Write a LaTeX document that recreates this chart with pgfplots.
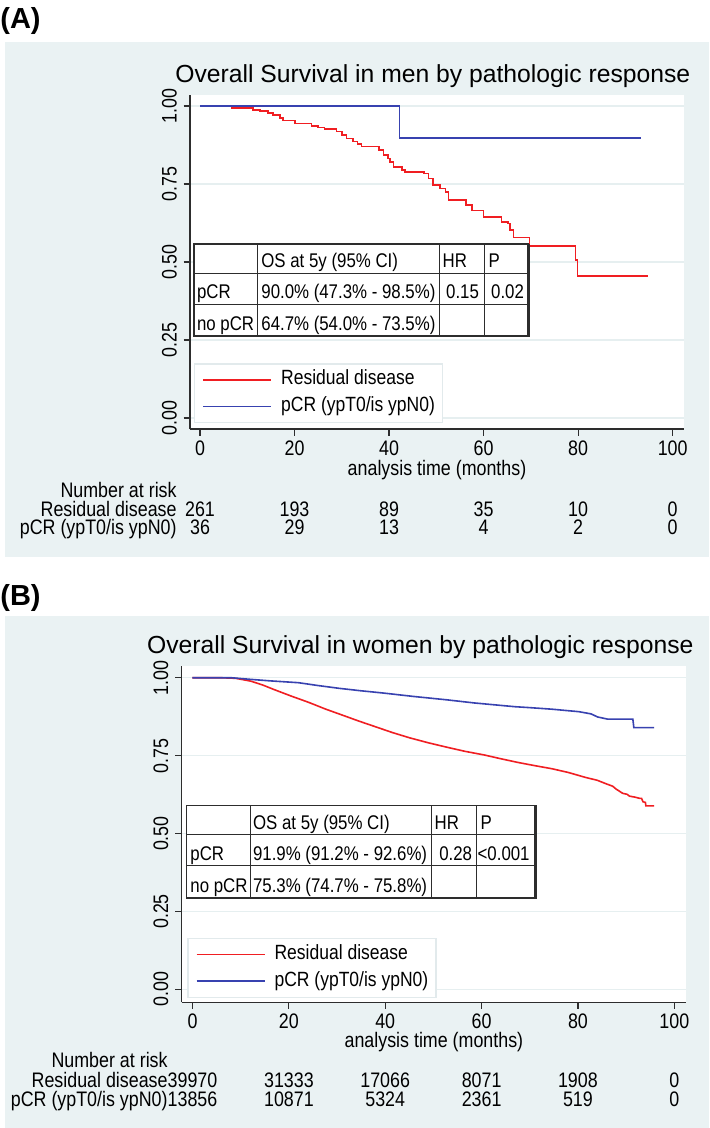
\documentclass[border=0pt]{standalone}
\usepackage{pgfplots}
\pgfplotsset{compat=1.18}
\usepackage{fontspec}
\setmainfont{Liberation Sans}
\newfontfamily\nf{Liberation Sans}[FakeStretch=0.85]
\definecolor{bgc}{RGB}{234,242,243}
\definecolor{gridc}{RGB}{230,239,240}
\definecolor{redc}{RGB}{240,30,34}
\definecolor{bluec}{RGB}{56,66,176}
\definecolor{axc}{RGB}{45,45,45}
\definecolor{legc}{RGB}{226,234,236}
\newcommand{\tk}{\fontsize{10.5pt}{12pt}\nf}
\newcommand{\tb}{\fontsize{9.9pt}{12pt}\nf}
\newcommand{\lgf}{\fontsize{10.3pt}{12pt}\nf}
\newcommand{\ttl}{\fontsize{12.35pt}{14pt}\selectfont}
\newcommand{\pl}{\fontsize{14.5pt}{16pt}\selectfont\bfseries}

\pgfplotsset{
  km/.style={
    scale only axis,
    axis x line=bottom, axis y line=left,
    axis line style={-, draw=axc, line width=0.6pt},
    axis background/.style={fill=white},
    xtick={0,20,40,60,80,100},
    xticklabels={0,20,40,60,80,100},
    ytick={0,0.25,0.5,0.75,1},
    yticklabels={0.00,0.25,0.50,0.75,1.00},
    tick align=outside,
    major tick length=3.25pt,
    tick style={draw=axc, line width=0.6pt},
    ymajorgrids,
    grid style={draw=gridc, line width=0.6pt},
    xticklabel style={font=\tk, anchor=base, inner sep=0pt},
    yticklabel style={font=\tk, rotate=90, anchor=base, inner sep=0pt},
    xticklabel shift=10.1pt,
    yticklabel shift=3.5pt,
    legend cell align=left,
    legend image code/.code={\draw[##1] (0pt,0pt) -- (34pt,0pt);},
    legend style={anchor=north west, draw=legc, line width=0.6pt, fill=white, font=\lgf,
      inner xsep=3.85pt, inner ysep=3pt, row sep=3.3pt,
      nodes={inner sep=0pt, text height=7.5pt, text depth=2.5pt},
      /tikz/every odd column/.append style={column sep=4.65pt}},
  },
  redl/.style={const plot, draw=redc, line width=0.8pt, no marks},
  bluel/.style={const plot, draw=bluec, line width=0.8pt, no marks},
  reds/.style={sharp plot, draw=redc, line width=0.8pt, no marks},
  blues/.style={sharp plot, draw=bluec, line width=0.8pt, no marks},
}

\begin{document}
\begin{tikzpicture}
\begin{scope}[x=0.5pt,y=-0.5pt]
  \path (0,0) rectangle (709,1128);
  \fill[bgc] (5,41.7) rectangle (709,557.3);
  \fill[bgc] (5,616) rectangle (709,1128);
  \node[anchor=base west, inner sep=0pt, font=\pl] at (0,29) {(A)};
  \node[anchor=base west, inner sep=0pt, font=\pl] at (0,605) {(B)};
  \node[anchor=base west, inner sep=0pt, font=\ttl] at (175,82.7) {Overall Survival in men by pathologic response};
  \node[anchor=base west, inner sep=0pt, font=\ttl] at (146.7,653.3) {Overall Survival in women by pathologic response};
\end{scope}

% ---------------- Panel A ----------------
\begin{axis}[km, at={(95pt,-214.5pt)}, anchor=south west,
  width=247pt, height=167pt,
  xmin=-2.115, xmax=102.39, ymin=-0.0353, ymax=1.0353,
  legend style={at={(0.0081,0.1967)}}]
\addplot[redl] coordinates {
(0,1.000) (6.7,0.993) (11.2,0.988) (12.7,0.984) (14.4,0.977) (15.5,0.971)
(16.9,0.961) (17.6,0.953) (20.1,0.944) (23.6,0.936) (25.0,0.931) (26.3,0.926)
(28.9,0.918) (30.0,0.907) (31.0,0.896) (32.4,0.886) (33.3,0.878) (34.2,0.870)
(37.9,0.859) (38.8,0.843) (39.8,0.832) (40.2,0.821) (40.9,0.805) (42.7,0.795)
(43.4,0.789) (47.4,0.784) (48.3,0.768) (49.3,0.747) (50.8,0.736) (51.9,0.725)
(52.6,0.699) (56.3,0.683) (57.5,0.665) (60.0,0.645) (63.8,0.629) (65.2,0.624)
(65.6,0.603) (66.3,0.579) (69.7,0.551) (79.4,0.506) (79.9,0.456) (94.7,0.456)
};
\addlegendentry{Residual disease}
\addplot[bluel] coordinates {
(0,1.000) (42.2,0.898) (93.3,0.898)
};
\addlegendentry{pCR (ypT0/is ypN0)}
\end{axis}

% ---------------- Panel B ----------------
\begin{axis}[km, at={(90.85pt,-501.1pt)}, anchor=south west,
  width=252.15pt, height=168pt,
  xmin=-2.24, xmax=102.43, ymin=-0.041, ymax=1.0369,
  legend style={at={(0.0113,0.1913)}}]
\addplot[reds] coordinates {
(0,1.000) (5.8,1.000) (9.0,0.998) (12.1,0.989) (14.5,0.977) (17.1,0.961)
(20.5,0.941) (24.1,0.921) (27.5,0.900) (31.1,0.880) (34.5,0.861) (38.1,0.842)
(41.5,0.824) (45.1,0.807) (49.0,0.791) (52.8,0.777) (56.5,0.764) (60.6,0.752)
(64.0,0.740) (67.6,0.728) (71.0,0.718) (74.6,0.708) (78.0,0.696) (81.6,0.680)
(84.0,0.671) (85.8,0.660) (87.2,0.652) (87.9,0.643) (88.8,0.634) (89.3,0.629)
(90.2,0.626) (90.7,0.620) (91.8,0.617) (92.8,0.613) (93.2,0.613) (93.5,0.602)
(94.0,0.600) (94.1,0.589) (95.8,0.589)
};
\addlegendentry{Residual disease}
\addplot[blues] coordinates {
(0,1.000) (8.0,1.000) (11.8,0.995) (16.0,0.990) (22.0,0.984) (26.0,0.975)
(30.4,0.966) (35.0,0.958) (39.5,0.951) (45.8,0.940) (52.8,0.929) (58.5,0.919)
(62.0,0.914) (66.9,0.907) (70.0,0.904) (74.6,0.899) (80.2,0.891) (82.7,0.884)
(84.1,0.874) (86.2,0.867) (91.4,0.867) (91.6,0.840) (95.8,0.840)
};
\addlegendentry{pCR (ypT0/is ypN0)}
\end{axis}

\begin{scope}[x=0.5pt,y=-0.5pt]
  % axis titles
  \node[anchor=base, inner sep=0pt, font=\tk] at (437,475) {analysis time (months)};
  \node[anchor=base, inner sep=0pt, font=\tk] at (433.9,1047) {analysis time (months)};
  % ---- table A ----
  \fill[white] (194,244) rectangle (528.3,336);
  \draw[axc, line width=0.5pt] (194,273.3) -- (528.3,273.3) (194,304.3) -- (528.3,304.3)
     (257.7,244) -- (257.7,336) (439.3,244) -- (439.3,336) (484,244) -- (484,336);
  \draw[axc, line width=0.6pt] (194,244) rectangle (528.3,336);
  \draw[axc, line width=1.2pt] (194,336) -- (528.3,336) -- (528.3,244);
  \begin{scope}[every node/.style={inner sep=0pt, font=\tb}]
  \node[anchor=base west] at (261,268) {OS at 5y (95\% CI)};
  \node[anchor=base west] at (442.3,268) {HR};
  \node[anchor=base west] at (488.3,268) {P};
  \node[anchor=base west] at (196.7,299) {pCR};
  \node[anchor=base west] at (261,299) {90.0\% (47.3\% - 98.5\%)};
  \node[anchor=base east] at (479.3,299) {0.15};
  \node[anchor=base east] at (524.3,299) {0.02};
  \node[anchor=base west] at (196.7,330.5) {no pCR};
  \node[anchor=base west] at (261,330.5) {64.7\% (54.0\% - 73.5\%)};
  \end{scope}
  % ---- table B ----
  \fill[white] (186.8,805.1) rectangle (535.6,898);
  \draw[axc, line width=0.5pt] (186.8,834.8) -- (535.6,834.8) (186.8,865.9) -- (535.6,865.9)
     (250.3,805.1) -- (250.3,898) (431.9,805.1) -- (431.9,898) (476.8,805.1) -- (476.8,898);
  \draw[axc, line width=0.6pt] (186.8,805.1) rectangle (535.6,898);
  \draw[axc, line width=1.2pt] (186.8,898) -- (535.6,898) -- (535.6,805.1);
  \begin{scope}[every node/.style={inner sep=0pt, font=\tb}]
  \node[anchor=base west] at (252.7,829.5) {OS at 5y (95\% CI)};
  \node[anchor=base west] at (434.2,829.5) {HR};
  \node[anchor=base west] at (480.2,829.5) {P};
  \node[anchor=base west] at (190,860.5) {pCR};
  \node[anchor=base west] at (252.7,860.5) {91.9\% (91.2\% - 92.6\%)};
  \node[anchor=base east] at (472.4,860.5) {0.28};
  \node[anchor=base east] at (530,860.5) {<0.001};
  \node[anchor=base west] at (190,892.5) {no pCR};
  \node[anchor=base west] at (252.7,892.5) {75.3\% (74.7\% - 75.8\%)};
  \end{scope}
  % ---- risk table A ----
  \begin{scope}[every node/.style={inner sep=0pt, font=\tk}]
  \node[anchor=base east] at (177,497.5) {Number at risk};
  \node[anchor=base east] at (177,516) {Residual disease};
  \node[anchor=base east] at (177,534.5) {pCR (ypT0/is ypN0)};
  \foreach \x/\a/\b in {200/261/36, 294.5/193/29, 389/89/13, 483.5/35/4, 578/10/2, 672.5/0/0} {
    \node[anchor=base] at (\x,516) {\a};
    \node[anchor=base] at (\x,534.5) {\b};
  }
  % ---- risk table B ----
  \node[anchor=base east] at (168,1067) {Number at risk};
  \node[anchor=base east] at (168,1087.5) {Residual disease};
  \node[anchor=base east] at (168,1106.5) {pCR (ypT0/is ypN0)};
  \foreach \x/\a/\b in {192.5/39970/13856, 288.9/31333/10871, 385.2/17066/5324, 481.6/8071/2361, 577.9/1908/519, 674.3/0/0} {
    \node[anchor=base] at (\x,1087.5) {\a};
    \node[anchor=base] at (\x,1106.5) {\b};
  }
  \end{scope}
\end{scope}
\end{tikzpicture}
\end{document}
